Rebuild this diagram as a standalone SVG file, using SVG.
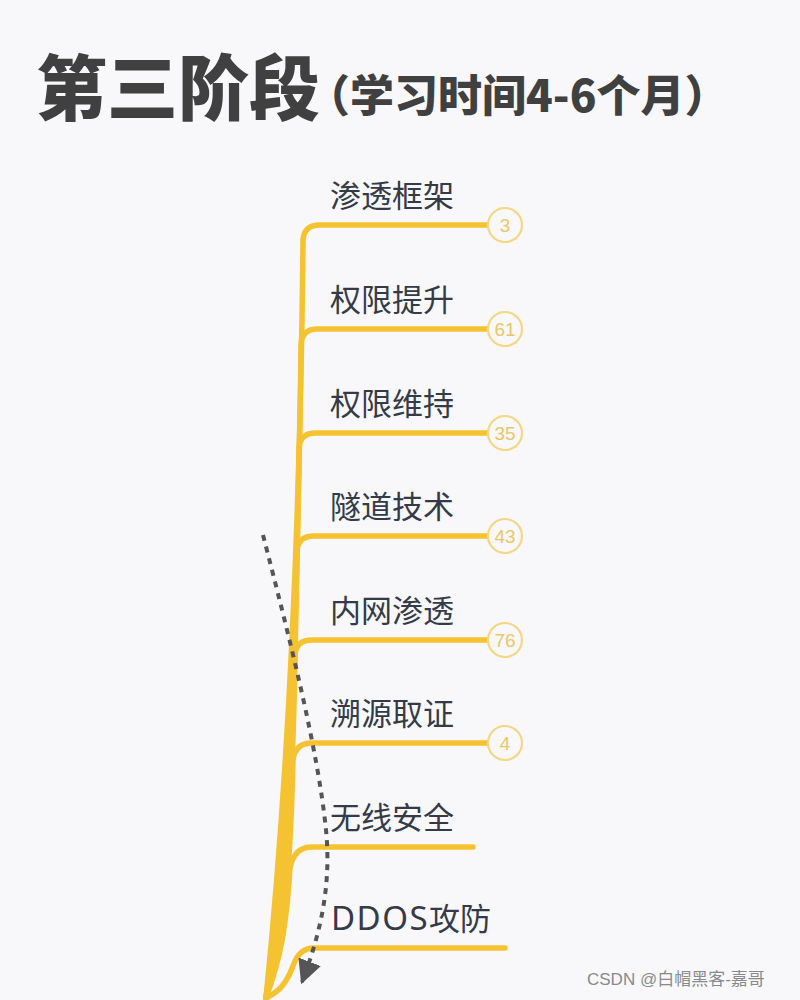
<svg xmlns="http://www.w3.org/2000/svg" width="800" height="1000" viewBox="0 0 800 1000">
<defs>
<style>
.title{font-family:"Noto Sans CJK SC","Noto Sans",sans-serif;font-weight:900;fill:#404040}
.lbl{font-family:"Noto Sans CJK SC","Noto Sans",sans-serif;font-size:31px;fill:#343b47}
.lat{font-family:"Noto Sans",sans-serif;font-size:33px;letter-spacing:1.5px}
.br{fill:none;stroke:#f5c232;stroke-width:5.5;stroke-linecap:round}
.cnt{fill:#f8f8fb;stroke:#f3d783;stroke-width:2.2}
.num{font-family:"Liberation Sans",Arial,sans-serif;font-size:19px;fill:#e8c769;text-anchor:middle}
.wm{font-family:"Liberation Sans","Noto Sans CJK SC",sans-serif;font-size:17px;fill:#8a8a8a}
</style>
<marker id="ah2" viewBox="0 0 10 10" refX="9" refY="5" markerWidth="24" markerHeight="24" orient="auto" markerUnits="userSpaceOnUse">
<path d="M0 0 L10 5 L0 10 Z" fill="#555"/>
</marker>
</defs>
<rect width="800" height="1000" fill="#f8f8fb"/>
<g id="title">
<text class="title" x="36" y="114" font-size="71">第三阶段</text>
<text class="title" x="306" y="112" font-size="44">（学习时间4-6个月）</text>
</g>
<g id="connectors">
<path class="br" d="M266 998 C286 800 300 560 303 240 Q304 225 320 225 H488"/>
<path class="br" d="M266 998 C286 870 298 620 301 344 Q302 329 318 329 H488"/>
<path class="br" d="M266 998 C285 880 296 700 299 448 Q300 433 316 433 H488"/>
<path class="br" d="M266 998 C284 900 294 780 297 551 Q298 536 314 536 H488"/>
<path class="br" d="M266 998 C283 920 292 840 295 655 Q296 640 312 640 H488"/>
<path class="br" d="M266 998 C282 940 290 890 293 760 Q295 743 312 743 H488"/>
<path class="br" d="M266 998 C280 960 286 930 290 868 Q294 847 312 847 H473"/>
<path class="br" d="M266 998 C278 992 286 985 293 966 Q299 948 314 948 H505"/>
<path d="M263 535 C290 640 318 750 326 830 C332 890 318 940 302 982" fill="none" stroke="#555" stroke-width="4" stroke-dasharray="6 6" marker-end="url(#ah2)"/>
</g>
<g id="n1"><text class="lbl" x="330" y="207">渗透框架</text><circle class="cnt" cx="505" cy="225" r="17"/><text class="num" x="505" y="232">3</text></g>
<g id="n2"><text class="lbl" x="330" y="311">权限提升</text><circle class="cnt" cx="505" cy="329" r="17"/><text class="num" x="505" y="336">61</text></g>
<g id="n3"><text class="lbl" x="330" y="415">权限维持</text><circle class="cnt" cx="505" cy="433" r="17"/><text class="num" x="505" y="440">35</text></g>
<g id="n4"><text class="lbl" x="330" y="518">隧道技术</text><circle class="cnt" cx="505" cy="536" r="17"/><text class="num" x="505" y="543">43</text></g>
<g id="n5"><text class="lbl" x="330" y="622">内网渗透</text><circle class="cnt" cx="505" cy="640" r="17"/><text class="num" x="505" y="647">76</text></g>
<g id="n6"><text class="lbl" x="330" y="725">溯源取证</text><circle class="cnt" cx="505" cy="743" r="17"/><text class="num" x="505" y="750">4</text></g>
<g id="n7"><text class="lbl" x="330" y="829">无线安全</text></g>
<g id="n8"><text class="lbl" x="331" y="930"><tspan class="lat">DDOS</tspan>攻防</text></g>
<g id="watermark"><text class="wm" x="587" y="985">CSDN @白帽黑客-嘉哥</text></g>
</svg>
